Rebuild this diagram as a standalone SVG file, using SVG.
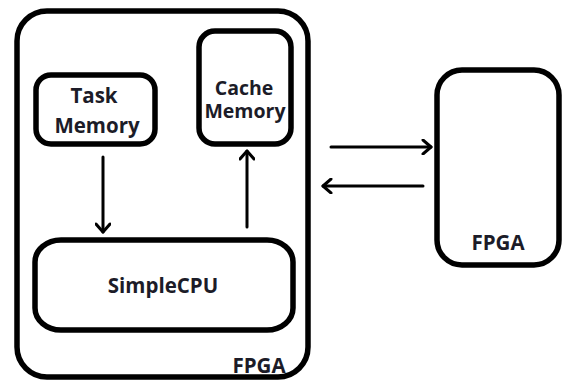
<svg xmlns="http://www.w3.org/2000/svg" width="566" height="385" viewBox="0 0 566 385">
  <style>
    .box { fill: #ffffff; stroke: #000000; stroke-width: 5.5; }
    .label { font-family: "Open Sans", "Liberation Sans", sans-serif; font-weight: bold; font-size: 20.5px; fill: #1c1c28; text-anchor: middle; }
    .tight { font-size: 19.5px; }
    .wire { stroke: #000000; stroke-width: 3; fill: none; stroke-linecap: round; }
  </style>
  <defs>
    <marker id="head" viewBox="0 0 12 16" refX="10" refY="8" markerWidth="12" markerHeight="16" markerUnits="userSpaceOnUse" orient="auto">
      <polyline points="2,1 10,8 2,15" fill="none" stroke="#000000" stroke-width="3" stroke-linecap="round" stroke-linejoin="round"/>
    </marker>
  </defs>
  <rect width="566" height="385" fill="#ffffff"/>

  <g id="fpga-main">
    <rect class="box" x="17" y="11" width="291" height="366" rx="30" ry="30"/>
    <text class="label" x="259" y="373">FPGA</text>
  </g>

  <g id="task-memory">
    <rect class="box" x="36" y="75" width="119" height="69" rx="15" ry="15"/>
    <text class="label" x="94" y="103">Task</text>
    <text class="label" x="97" y="133">Memory</text>
  </g>

  <g id="cache-memory">
    <rect class="box" x="199" y="31" width="92" height="113" rx="16" ry="16"/>
    <text class="label tight" x="244" y="95">Cache</text>
    <text class="label tight" x="245" y="118">Memory</text>
  </g>

  <g id="simple-cpu">
    <rect class="box" x="35" y="240" width="258" height="90" rx="26" ry="22"/>
    <text class="label" x="163" y="293">SimpleCPU</text>
  </g>

  <g id="fpga-remote">
    <rect class="box" x="437" y="70" width="122" height="195" rx="25" ry="25"/>
    <text class="label" x="498" y="250">FPGA</text>
  </g>

  <g id="connectors">
    <line class="wire" x1="103" y1="157" x2="103" y2="232" marker-end="url(#head)"/>
    <line class="wire" x1="247" y1="227" x2="247" y2="151" marker-end="url(#head)"/>
    <line class="wire" x1="331" y1="147" x2="431" y2="147" marker-end="url(#head)"/>
    <line class="wire" x1="423" y1="186" x2="323" y2="186" marker-end="url(#head)"/>
  </g>
</svg>
